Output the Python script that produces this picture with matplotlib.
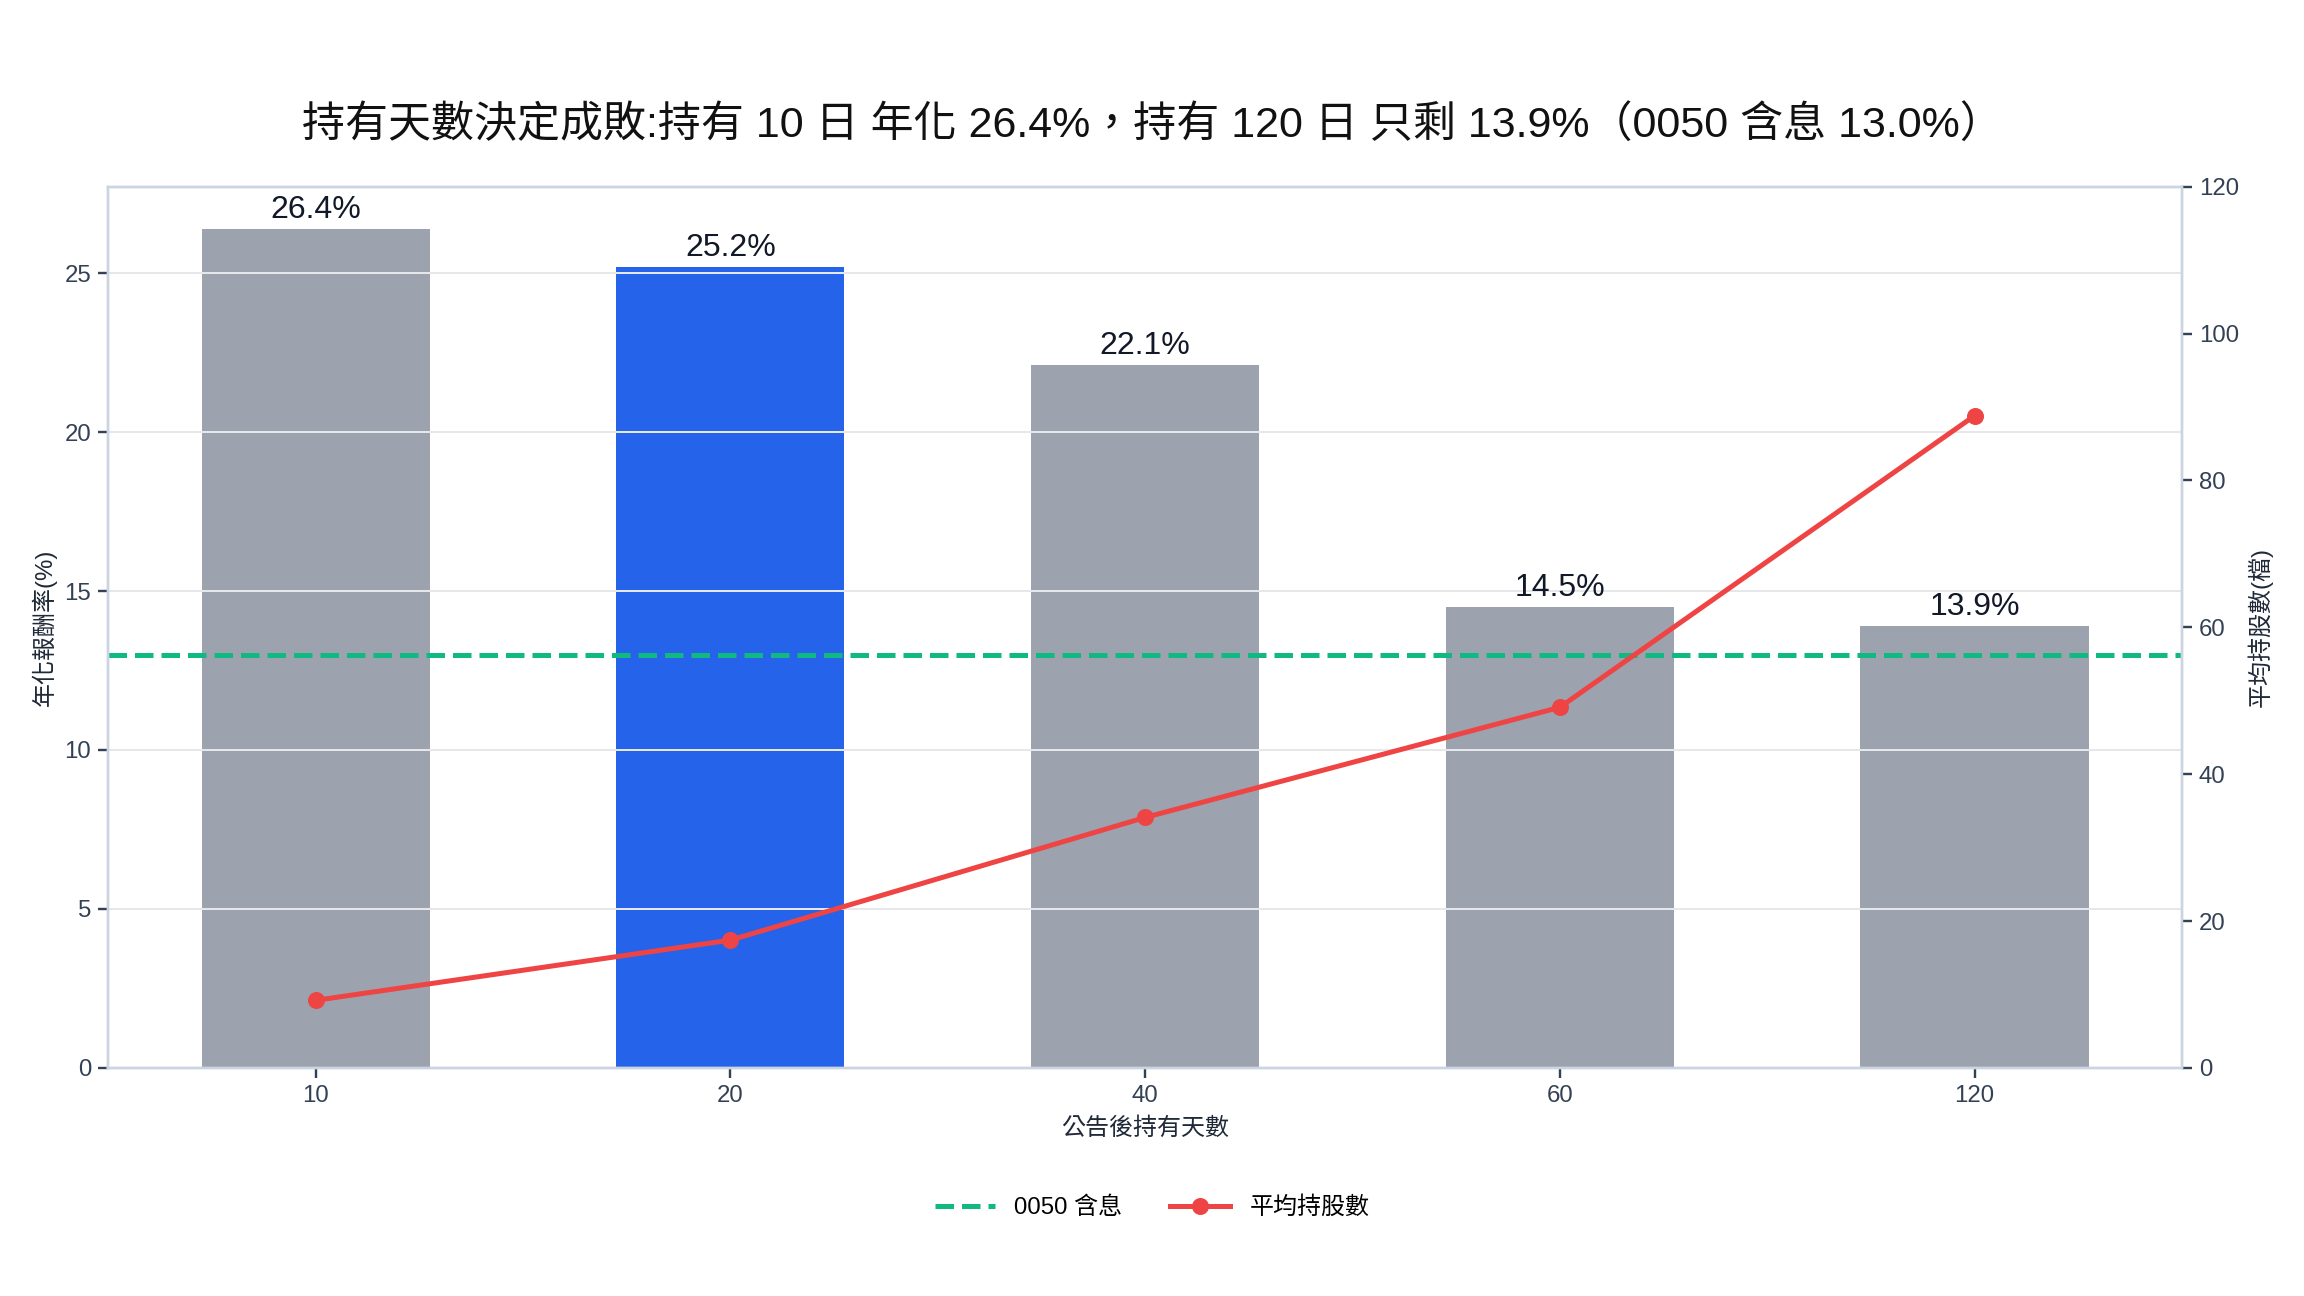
import numpy as np
from matplotlib import pyplot as plt
from matplotlib.lines import Line2D

plt.rcParams['font.family'] = ['Liberation Sans', 'Noto Sans CJK TC', 'DejaVu Sans']

# data
hold_days = ['10', '20', '40', '60', '120']
annual_return = [26.4, 25.2, 22.1, 14.5, 13.9]
avg_holdings = [9.2, 17.4, 34.1, 49.1, 88.8]
benchmark_0050 = 13.0
highlight = '20'

gray = '#9ca3af'
blue = '#2563eb'
red = '#ef4444'
green = '#10b981'
spine_c = '#cbd5e1'
text_c = '#334155'

fig = plt.figure(figsize=(16, 9), dpi=144)
ax = fig.add_axes([0.047, 0.176, 0.9, 0.680])
ax2 = ax.twinx()

x = np.arange(len(hold_days))
colors = [blue if d == highlight else gray for d in hold_days]
bars = ax.bar(x, annual_return, width=0.55, color=colors)
for b, v in zip(bars, annual_return):
    ax.text(b.get_x() + b.get_width() / 2, v + 0.12, f'{v:.1f}%',
            ha='center', va='bottom', fontsize=16, color='#111827')

ax.axhline(benchmark_0050, color=green, ls='--', lw=2.5, dashes=(3.7, 1.6))
ax2.plot(x, avg_holdings, color=red, lw=2.5, marker='o', ms=7.5)

ax.set_xlim(-0.5, len(hold_days) - 0.5)
ax.set_ylim(0, max(annual_return) * 1.05)
ax2.set_ylim(0, 120)
ax.set_xticks(x)
ax.set_xticklabels(hold_days)
ax.set_yticks([0, 5, 10, 15, 20, 25])
ax2.set_yticks([0, 20, 40, 60, 80, 100, 120])

ax.grid(axis='y', color='#e5e7eb', lw=1)
ax.grid(axis='x', visible=False)
ax2.grid(False)

for a in (ax, ax2):
    for s in a.spines.values():
        s.set_color(spine_c)
        s.set_linewidth(1.2)
    a.tick_params(colors=text_c, labelsize=12, length=5, width=1.2)
    for lab in a.get_xticklabels() + a.get_yticklabels():
        lab.set_color(text_c)

ax.set_xlabel('公告後持有天數', fontsize=12, color='#1f2937', labelpad=5)
ax.set_ylabel('年化報酬率(%)', fontsize=12, color='#1f2937')
ax2.set_ylabel('平均持股數(檔)', fontsize=12, color='#1f2937')

fig.suptitle('持有天數決定成敗:持有 10 日 年化 26.4%，持有 120 日 只剩 13.9%（0050 含息 13.0%）',
             y=0.903, va='center', fontsize=21.5, color='#111111')

handles = [Line2D([], [], color=green, ls='--', lw=2.5, dashes=(3.7, 1.6)),
           Line2D([], [], color=red, lw=2.5, marker='o', ms=7.5)]
fig.legend(handles, ['0050 含息', '平均持股數'], loc='center', bbox_to_anchor=(0.5, 0.068),
           ncol=2, frameon=False, fontsize=12, columnspacing=2.0, handlelength=2.5)

fig.savefig('out.png', dpi=144)
